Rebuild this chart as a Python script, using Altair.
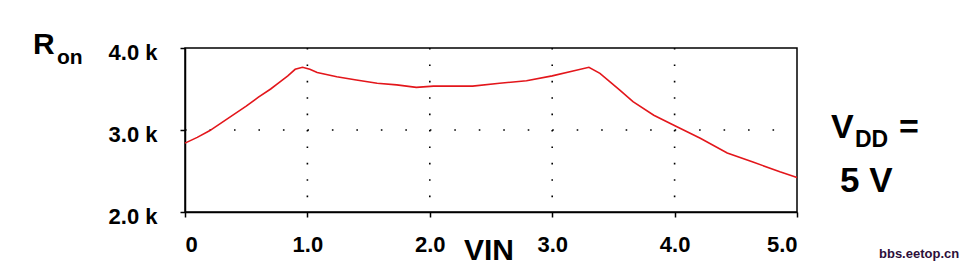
import altair as alt
import pandas as pd

# ---- data ----
vin = [0, 0.1, 0.2, 0.3, 0.4, 0.5, 0.6, 0.7, 0.76, 0.84, 0.9, 0.96, 1.02, 1.08, 1.24,
       1.4, 1.57, 1.73, 1.89, 2.03, 2.35, 2.57, 2.79, 3.0, 3.17, 3.3, 3.39, 3.47,
       3.55, 3.66, 3.83, 3.99, 4.21, 4.43, 4.64, 4.86, 5.0]
ron_k = [2.84, 2.91, 2.99, 3.09, 3.19, 3.29, 3.40, 3.50, 3.57, 3.66, 3.74, 3.765,
         3.74, 3.70, 3.65, 3.61, 3.57, 3.55, 3.52, 3.535, 3.535, 3.57, 3.60, 3.66,
         3.72, 3.765, 3.69, 3.59, 3.49, 3.345, 3.18, 3.06, 2.90, 2.72, 2.61, 2.49, 2.42]
x_ticks = [0, 1, 2, 3, 4, 5]
y_ticks = [2.0, 3.0, 4.0]

df = pd.DataFrame({"vin": vin, "ron": ron_k})
one = pd.DataFrame({"a": [0]})

FONT = "Liberation Sans"
W, H = 612, 164

xscale = alt.Scale(domain=[0, 5], nice=False, zero=False)
yscale = alt.Scale(domain=[2, 4], nice=False, zero=False)

# dotted grids
vgrid = alt.Chart(pd.DataFrame({"g": [1, 2, 3, 4]})).mark_rule(
    color="black", strokeWidth=1.6, strokeDash=[1.6, 14.8], strokeDashOffset=0
).encode(x=alt.X("g:Q", scale=xscale), y=alt.value(0), y2=alt.value(H))

hgrid = alt.Chart(pd.DataFrame({"g": [3.0]})).mark_rule(
    color="black", strokeWidth=1.6, strokeDash=[1.6, 22.88]
).encode(y=alt.Y("g:Q", scale=yscale), x=alt.value(0), x2=alt.value(W))

line = alt.Chart(df).mark_line(color="#e3161b", strokeWidth=1.6).encode(
    x=alt.X("vin:Q", scale=xscale,
            axis=alt.Axis(values=x_ticks, title=None, grid=False,
                          labelExpr="datum.value == 0 ? '0' : format(datum.value, '.1f')",
                          labelFont=FONT, labelFontSize=22, labelFontWeight="bold",
                          labelColor="black", labelPadding=17, tickSize=5,
                          tickColor="black", domainColor="black", domainWidth=1.5,
                          tickWidth=1.5)),
    y=alt.Y("ron:Q", scale=yscale,
            axis=alt.Axis(values=y_ticks, title=None, grid=False,
                          labelExpr="format(datum.value, '.1f') + ' k'",
                          labelFont=FONT, labelFontSize=22, labelFontWeight="bold",
                          labelColor="black", labelPadding=23, tickSize=5,
                          labelOffset=4,
                          tickColor="black", domainColor="black", domainWidth=1.5,
                          tickWidth=1.5)),
)


def txt(t, x, y, size, align="left", color="black", font=FONT, weight="bold"):
    return alt.Chart(one).mark_text(
        text=t, align=align, baseline="alphabetic", font=font,
        fontSize=size, fontWeight=weight, color=color
    ).encode(x=alt.value(x), y=alt.value(y))


labels = [
    txt("R", -152, 6, 30),
    txt("on", -128, 16, 21),
    txt("V", 646, 90, 34),
    txt("DD", 670, 99, 23),
    txt("=", 714, 90, 34),
    txt("5 V", 655, 144, 35),
    txt("VIN", 304, 212, 30, align="center"),
    txt("bbs.eetop.cn", 694, 210, 13, color="#2d0f3a"),
]

chart = alt.layer(vgrid, hgrid, line, *labels).properties(
    width=W, height=H,
    autosize=alt.AutoSizeParams(type="none"),
    padding={"left": 185, "top": 48, "right": 166, "bottom": 53},
    background="white",
).configure_view(stroke="black", strokeWidth=1.5)

chart.save("out.html", embed_options={"renderer": "svg", "actions": False})
